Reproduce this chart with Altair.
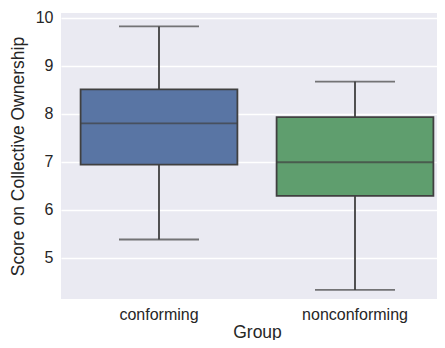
import altair as alt
import pandas as pd

groups = ["conforming", "nonconforming"]
whisker_low = [5.38, 4.33]
q1 = [6.94, 6.29]
median = [7.80, 6.99]
q3 = [8.51, 7.93]
whisker_high = [9.82, 8.67]
colors = ["#5975A4", "#5F9E6E"]

df = pd.DataFrame({
    "Group": groups,
    "lo": whisker_low,
    "q1": q1,
    "med": median,
    "q3": q3,
    "hi": whisker_high,
})

line_col = "#404040"
x = alt.X("Group:N", title="Group", sort=groups,
          scale=alt.Scale(paddingInner=0, paddingOuter=0, range=[0, 392]),
          axis=alt.Axis(labelAngle=0, tickSize=0, domain=False, grid=False,
                        labelPadding=7, titlePadding=1, titleX=196))
yscale = alt.Scale(domain=[4.14, 10.1], nice=False, zero=False)
yaxis = alt.Axis(values=[5, 6, 7, 8, 9, 10], tickSize=0, domain=False,
                 labelPadding=8, titlePadding=8, gridColor="white", gridWidth=1.5)

base = alt.Chart(df)

whisk_up = base.mark_rule(color=line_col, strokeWidth=1.8).encode(
    x=x, y=alt.Y("q3:Q", scale=yscale, axis=yaxis, title="Score on Collective Ownership"), y2="hi:Q")
whisk_dn = base.mark_rule(color=line_col, strokeWidth=1.8).encode(
    x=x, y=alt.Y("lo:Q", scale=yscale), y2="q1:Q")
box = base.mark_bar(width=alt.RelativeBandSize(0.8), stroke=line_col, strokeWidth=1.8).encode(
    x=x, y=alt.Y("q1:Q", scale=yscale), y2="q3:Q",
    color=alt.Color("Group:N", scale=alt.Scale(domain=groups, range=colors), legend=None))
med = base.mark_tick(color=line_col, thickness=1.8, size=157, orient="horizontal").encode(
    x=x, y=alt.Y("med:Q", scale=yscale))
cap_hi = base.mark_tick(color=line_col, thickness=1.8, size=80, orient="horizontal").encode(
    x=x, y=alt.Y("hi:Q", scale=yscale))
cap_lo = base.mark_tick(color=line_col, thickness=1.8, size=80, orient="horizontal").encode(
    x=x, y=alt.Y("lo:Q", scale=yscale))

chart = alt.layer(whisk_up, whisk_dn, box, med, cap_hi, cap_lo).properties(
    width=376, height=286,
    autosize=alt.AutoSizeParams(type="none"),
    padding={"left": 53, "top": 5, "right": 0, "bottom": 41},
    background="white",
).configure_view(fill="#EAEAF2", stroke=None).configure_axis(
    labelFont="Liberation Sans", titleFont="Liberation Sans",
    labelFontSize=16, titleFontSize=17.5, titleFontWeight="normal",
    labelColor="#262626", titleColor="#262626",
)

chart.save("out.html", embed_options={"renderer": "svg", "actions": False})
